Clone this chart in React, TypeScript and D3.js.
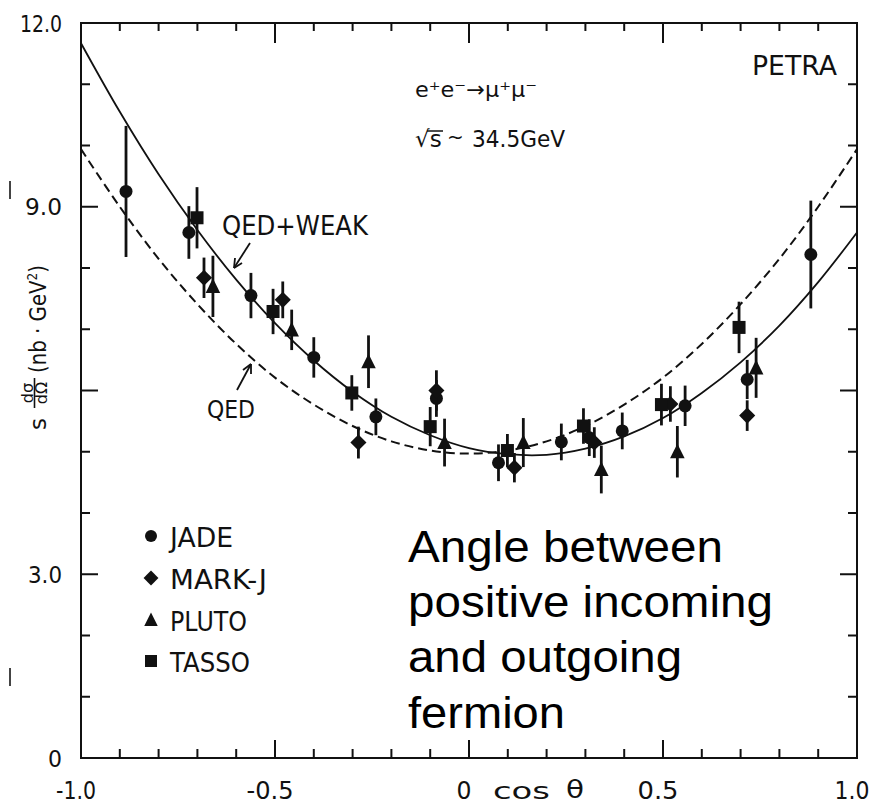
import React from 'react';
import * as d3 from 'd3';

// ---------- data ----------
const cosGrid = [-1.0, -0.9, -0.8, -0.7, -0.6, -0.5, -0.4, -0.3, -0.2, -0.1, 0.0, 0.1, 0.2, 0.3, 0.4, 0.5, 0.6, 0.7, 0.8, 0.9, 1.0];
const qedCurve = [9.94, 9.0, 8.15, 7.41, 6.76, 6.21, 5.77, 5.42, 5.17, 5.02, 4.97, 5.02, 5.17, 5.42, 5.77, 6.21, 6.76, 7.41, 8.15, 9.0, 9.94];
const qedWeakCurve = [11.67, 10.55, 9.53, 8.62, 7.81, 7.1, 6.49, 5.98, 5.57, 5.27, 5.06, 4.96, 4.95, 5.05, 5.25, 5.55, 5.96, 6.46, 7.06, 7.77, 8.58];

const jadeCos = [-0.884, -0.722, -0.562, -0.4, -0.24, -0.084, 0.076, 0.238, 0.31, 0.395, 0.557, 0.717, 0.881];
const jadeVal = [9.25, 8.58, 7.55, 6.54, 5.57, 5.87, 4.82, 5.16, 5.23, 5.34, 5.75, 6.18, 8.22];
const jadeErr = [1.07, 0.43, 0.37, 0.33, 0.3, 0.3, 0.3, 0.3, 0.3, 0.3, 0.33, 0.32, 0.88];

const markjCos = [-0.683, -0.48, -0.285, -0.084, 0.117, 0.323, 0.519, 0.717];
const markjVal = [7.84, 7.48, 5.15, 6.0, 4.74, 5.15, 5.78, 5.59];
const markjErr = [0.33, 0.3, 0.26, 0.33, 0.24, 0.25, 0.29, 0.25];

const plutoCos = [-0.66, -0.457, -0.259, -0.063, 0.14, 0.341, 0.537, 0.74];
const plutoVal = [7.7, 6.99, 6.47, 5.15, 5.15, 4.71, 5.0, 6.37];
const plutoErr = [0.5, 0.33, 0.43, 0.39, 0.4, 0.39, 0.42, 0.49];

const tassoCos = [-0.701, -0.505, -0.302, -0.1, 0.099, 0.295, 0.496, 0.696];
const tassoVal = [8.82, 7.29, 5.96, 5.41, 5.02, 5.42, 5.77, 7.03];
const tassoErr = [0.5, 0.37, 0.29, 0.32, 0.27, 0.29, 0.34, 0.42];

const seriesNames = ['JADE', 'MARK-J', 'PLUTO', 'TASSO'];
const seriesShapes = ['circle', 'diamond', 'triangle', 'square'];

const yLabelValues = [0, 3, 9, 12];
const yLabelTexts = ['0', '3.0', '9.0', '12.0'];
const xLabelValues = [-1, -0.5, 0, 0.5, 1];
const xLabelTexts = ['-1.0', '-0.5', '0', '0.5', '1.0'];

const annotationLines = ['Angle between', 'positive incoming', 'and outgoing', 'fermion'];

// ---------- styling / layout ----------
const W = 881;
const H = 805;
const INK = '#111';
const DIN = "'DejaVu Sans', 'Liberation Sans', sans-serif";

const x = d3.scaleLinear().domain([-1, 1]).range([81, 857]);
const y = d3.scaleLinear().domain([0, 12]).range([758, 23]);

const curveGen = d3
  .line<[number, number]>()
  .x((d) => x(d[0]))
  .y((d) => y(d[1]))
  .curve(d3.curveCatmullRom.alpha(0.5));

function Marker({ kind, cx, cy, s }: { kind: string; cx: number; cy: number; s: number }) {
  if (kind === 'circle') return <circle cx={cx} cy={cy} r={s * 0.5} fill={INK} />;
  if (kind === 'square') return <rect x={cx - s / 2} y={cy - s / 2} width={s} height={s} fill={INK} />;
  if (kind === 'diamond') {
    const h = s * 0.62;
    return <path d={`M${cx},${cy - h}L${cx + h},${cy}L${cx},${cy + h}L${cx - h},${cy}Z`} fill={INK} />;
  }
  const h = s * 0.56;
  return <path d={`M${cx},${cy - h * 1.1}L${cx + h},${cy + h * 0.9}L${cx - h},${cy + h * 0.9}Z`} fill={INK} />;
}

function Series({ cs, vs, es, kind }: { cs: number[]; vs: number[]; es: number[]; kind: string }) {
  return (
    <g>
      {cs.map((c, i) => (
        <line key={'e' + i} x1={x(c)} x2={x(c)} y1={y(vs[i] + es[i])} y2={y(vs[i] - es[i])} stroke={INK} strokeWidth={2.8} />
      ))}
      {cs.map((c, i) => (
        <Marker key={'m' + i} kind={kind} cx={x(c)} cy={y(vs[i])} s={13} />
      ))}
    </g>
  );
}

export default function App() {
  const xTicks = d3.range(-10, 11).map((k) => k / 10);
  const yTicks = d3.range(1, 12);
  const isMajorX = (v: number) => Math.abs(v * 2 - Math.round(v * 2)) < 1e-6;
  const isMajorY = (v: number) => v % 3 === 0;

  const qedPts = cosGrid.map((c, i) => [c, qedCurve[i]] as [number, number]);
  const weakPts = cosGrid.map((c, i) => [c, qedWeakCurve[i]] as [number, number]);

  const x0 = x(-1), x1 = x(1), y0 = y(0), y1 = y(12);
  const xLabelWidths = [40, 47, 15, 41, 35];
  const yLabelWidths = [14, 34, 37, 42];
  const legendWidths = [63, 97, 77, 80];
  const annWidths = [315, 365, 274, 157];

  return (
    <svg width={W} height={H} style={{ position: 'absolute', left: 0, top: 0, background: '#fff' }}>
      <rect x={0} y={0} width={W} height={H} fill="#fff" />

      {/* frame */}
      <rect x={x0} y={y1} width={x1 - x0} height={y0 - y1} fill="none" stroke={INK} strokeWidth={2} />

      {/* x ticks bottom & top */}
      {xTicks.map((v) => {
        const L = isMajorX(v) ? 18 : 9;
        const Lt = isMajorX(v) ? 20 : 8;
        return (
          <g key={'xt' + v}>
            <line x1={x(v)} x2={x(v)} y1={y0} y2={y0 - L} stroke={INK} strokeWidth={2} />
            <line x1={x(v)} x2={x(v)} y1={y1} y2={y1 + Lt} stroke={INK} strokeWidth={2} />
          </g>
        );
      })}
      {/* y ticks left & right */}
      {yTicks.map((v) => {
        const L = isMajorY(v) ? 17 : 9;
        return (
          <g key={'yt' + v}>
            <line x1={x0} x2={x0 + L} y1={y(v)} y2={y(v)} stroke={INK} strokeWidth={2} />
            <line x1={x1} x2={x1 - L} y1={y(v)} y2={y(v)} stroke={INK} strokeWidth={2} />
          </g>
        );
      })}

      {/* tick labels */}
      {yLabelValues.map((v, i) => (
        <text key={'yl' + v} x={62} y={y(v) + 8.5} textAnchor="end" fontFamily={DIN} fontSize={23} fill={INK}
          textLength={yLabelWidths[i]} lengthAdjust="spacingAndGlyphs">{yLabelTexts[i]}</text>
      ))}
      {xLabelValues.map((v, i) => (
        <text key={'xl' + v} x={x(v) - 5} y={799} textAnchor="middle" fontFamily={DIN} fontSize={24} fill={INK}
          textLength={xLabelWidths[i]} lengthAdjust="spacingAndGlyphs">{xLabelTexts[i]}</text>
      ))}
      <text x={493} y={799} fontFamily={DIN} fontSize={23} fill={INK}
        textLength={57} lengthAdjust="spacingAndGlyphs">cos</text>
      <text x={566} y={798} fontFamily={DIN} fontSize={25} fill={INK}
        textLength={18} lengthAdjust="spacingAndGlyphs">θ</text>

      {/* y axis title */}
      <g transform="translate(47,430) rotate(-90)" fontFamily={DIN} fill={INK}>
        <text x={0} y={-1} fontSize={23}>s</text>
        <text x={37} y={-14.5} fontSize={16} textAnchor="middle">dσ</text>
        <line x1={22} x2={52} y1={-12.5} y2={-12.5} stroke={INK} strokeWidth={1.6} />
        <text x={37} y={0} fontSize={16} textAnchor="middle">dΩ</text>
        <text x={57} y={-1} fontSize={23} textLength={108} lengthAdjust="spacingAndGlyphs">
          (nb · GeV<tspan dy={-9} fontSize={14}>2</tspan><tspan dy={9}>)</tspan>
        </text>
      </g>

      {/* stray scan marks */}
      <line x1={10} x2={10} y1={181} y2={199} stroke="#444" strokeWidth={2} />
      <line x1={10} x2={10} y1={668} y2={686} stroke="#444" strokeWidth={2} />

      {/* theory curves */}
      <path d={curveGen(qedPts) || ''} fill="none" stroke={INK} strokeWidth={2} strokeDasharray="9,5" />
      <path d={curveGen(weakPts) || ''} fill="none" stroke={INK} strokeWidth={1.8} />

      {/* data */}
      <Series cs={jadeCos} vs={jadeVal} es={jadeErr} kind="circle" />
      <Series cs={markjCos} vs={markjVal} es={markjErr} kind="diamond" />
      <Series cs={plutoCos} vs={plutoVal} es={plutoErr} kind="triangle" />
      <Series cs={tassoCos} vs={tassoVal} es={tassoErr} kind="square" />

      {/* curve labels + arrows */}
      <text x={222} y={235} fontFamily={DIN} fontSize={27} fill={INK} textLength={146} lengthAdjust="spacingAndGlyphs">QED+WEAK</text>
      <line x1={250} x2={234} y1={243} y2={268} stroke={INK} strokeWidth={1.8} />
      <path d="M234,268 L235,258 M234,268 L242,263" fill="none" stroke={INK} strokeWidth={1.8} />
      <text x={207} y={418} fontFamily={DIN} fontSize={25} fill={INK} textLength={48} lengthAdjust="spacingAndGlyphs">QED</text>
      <line x1={237} x2={251} y1={390} y2={364} stroke={INK} strokeWidth={1.8} />
      <path d="M251,364 L243,370 M251,364 L251,374" fill="none" stroke={INK} strokeWidth={1.8} />

      {/* header texts */}
      <text x={752} y={75} fontFamily={DIN} fontSize={27} fill={INK} textLength={85} lengthAdjust="spacingAndGlyphs">PETRA</text>
      <text x={415} y={97} fontFamily={DIN} fontSize={22} fill={INK} textLength={122} lengthAdjust="spacingAndGlyphs">e⁺e⁻→μ⁺μ⁻</text>
      <text y={147} fontFamily={DIN} fontSize={23} fill={INK}>
        <tspan x={415}>√s</tspan>
      </text>
      <line x1={427} x2={443} y1={131} y2={131} stroke={INK} strokeWidth={1.5} />
      <text x={447} y={144} fontFamily={DIN} fontSize={20} fill={INK}>~</text>
      <text x={472} y={147} fontFamily={DIN} fontSize={23} fill={INK} textLength={93} lengthAdjust="spacingAndGlyphs">34.5GeV</text>

      {/* legend */}
      {seriesNames.map((name, i) => {
        const ly = [537, 579, 621, 662][i];
        return (
          <g key={name}>
            <Marker kind={seriesShapes[i]} cx={151} cy={ly - 1} s={12} />
            <text x={170} y={ly + 10} fontFamily={DIN} fontSize={26} fill={INK}
              textLength={legendWidths[i]} lengthAdjust="spacingAndGlyphs">{name}</text>
          </g>
        );
      })}

      {/* big annotation */}
      {annotationLines.map((t, i) => (
        <text key={t} x={408} y={[562, 617, 672, 728][i]} fontFamily="'Liberation Sans', Arial, sans-serif" fontSize={45}
          fill="#000" textLength={annWidths[i]} lengthAdjust="spacingAndGlyphs">{t}</text>
      ))}
    </svg>
  );
}
